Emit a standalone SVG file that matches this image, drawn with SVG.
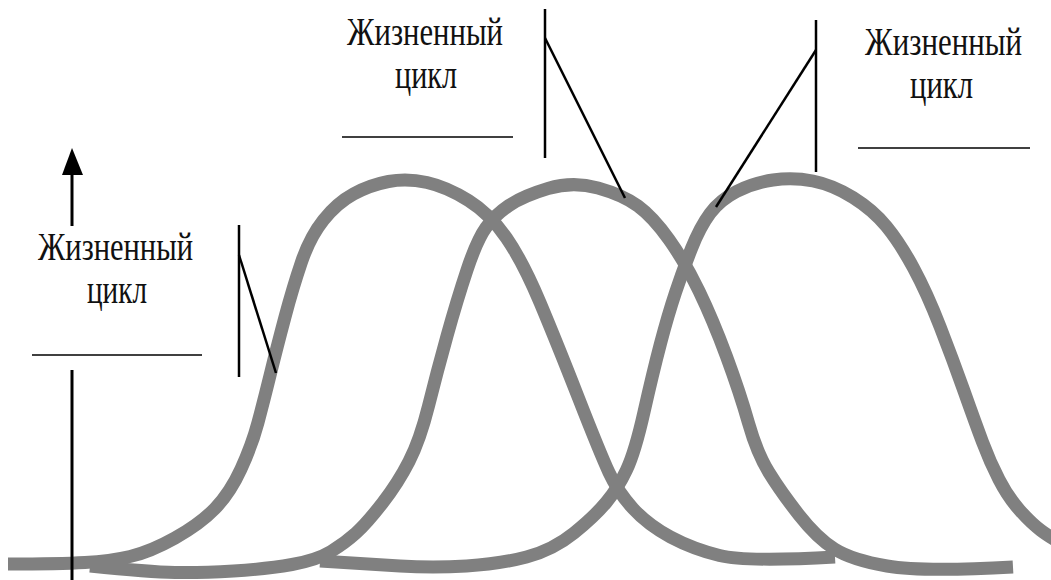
<svg xmlns="http://www.w3.org/2000/svg" width="1051" height="580" viewBox="0 0 1051 580">
<style>
.curve{fill:none;stroke:#808080;stroke-width:13;stroke-linecap:butt;stroke-linejoin:round}
.ln{stroke:#000;stroke-width:2.5;fill:none}
.hl{stroke:#000;stroke-width:1.6;fill:none}
.lbl{font-family:"Liberation Serif","Times New Roman",serif;font-size:39px;fill:#111}
</style>
<rect width="1051" height="580" fill="#fff"/>
<g id="curves">
<path id="curve1" class="curve" d="M8,564 Q60,564 85,562.5 T130,556.5 T175,538 T215,508.5 T241,469 T258,422.5 T270.5,373.5 T285,317 T301.5,262 T323.5,220 T353.5,194 T388.5,181.5 T427,182.5 T468.5,200.5 T506.5,238 T540,302.5 T578.5,398 T609,472.5 T633,508.5 T670.5,537 T719.5,555.5 T835,557"/>
<path id="curve2" class="curve" d="M90,566 Q150,572 175,572.5 T233.5,571 T292,564.5 T331,551.5 T356,533 T382.5,503 T409,461.5 T428.5,406 T447,336 T467,270 T486,227.5 T509,205.5 T548,188.5 T598,188 T638,206 T669,239.5 T699,291 T726.5,356.5 T748.5,423 T769,472.5 T799,515 T834.5,549 T887,566 T1013,567"/>
<path id="curve3" class="curve" d="M320,561 Q367,564 400,566 T466.5,566 T526.5,557 T574,533 T606.5,502 T626.5,470 T644,412 T660.5,343.5 T675.5,292.5 T691.5,248.5 T710,213.5 T736.5,191.5 T773,180 T813,181 T853,197.5 T886.5,226.5 T913.5,268 T940,326.5 T964,391 T982.5,442 T999,479.5 T1019.5,510 T1041,530.5 T1075,552"/>
</g>
<g id="axis">
<line x1="72" y1="172" x2="72" y2="226" stroke="#000" stroke-width="3"/>
<polygon points="72,148 62,175 83,175" fill="#000"/>
<line x1="72" y1="370" x2="72" y2="580" stroke="#000" stroke-width="3"/>
</g>
<g id="label-left">
<text class="lbl" transform="translate(38,260) scale(0.8,1)" textLength="193.75" lengthAdjust="spacingAndGlyphs">Жизненный</text>
<text class="lbl" transform="translate(87,303) scale(0.8,1)" textLength="75" lengthAdjust="spacingAndGlyphs">цикл</text>
<line class="hl" x1="32" y1="355" x2="202" y2="355"/>
</g>
<g id="label-middle">
<text class="lbl" transform="translate(347,45) scale(0.8,1)" textLength="195" lengthAdjust="spacingAndGlyphs">Жизненный</text>
<text class="lbl" transform="translate(395,88) scale(0.8,1)" textLength="77.5" lengthAdjust="spacingAndGlyphs">цикл</text>
<line class="hl" x1="342" y1="137" x2="513" y2="137"/>
</g>
<g id="label-right">
<text class="lbl" transform="translate(865,55) scale(0.8,1)" textLength="196.25" lengthAdjust="spacingAndGlyphs">Жизненный</text>
<text class="lbl" transform="translate(910,98) scale(0.8,1)" textLength="78.75" lengthAdjust="spacingAndGlyphs">цикл</text>
<line class="hl" x1="858" y1="148" x2="1030" y2="148"/>
</g>
<g id="connectors">
<line class="ln" x1="239" y1="225" x2="239" y2="377"/>
<line class="ln" x1="239" y1="255" x2="276" y2="373"/>
<line class="ln" x1="545" y1="9" x2="545" y2="158"/>
<line class="ln" x1="545" y1="38" x2="625" y2="198"/>
<line class="ln" x1="816" y1="20" x2="816" y2="172"/>
<line class="ln" x1="816" y1="50" x2="716" y2="207"/>
</g>
</svg>
